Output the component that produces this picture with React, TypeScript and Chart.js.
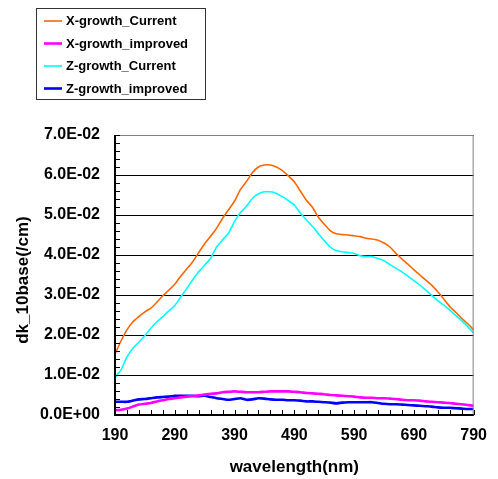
import React, { useEffect, useRef } from "react";
import { Chart, registerables } from "chart.js";

Chart.register(...registerables);

const wavelengths = [
  190, 200, 210, 220, 230, 240, 250, 260, 270, 280, 290, 300, 310, 320, 330, 340, 350, 360, 370, 380,
  390, 400, 410, 420, 430, 440, 450, 460, 470, 480, 490, 500, 510, 520, 530, 540, 550, 560, 570, 580,
  590, 600, 610, 620, 630, 640, 650, 660, 670, 680, 690, 700, 710, 720, 730, 740, 750, 760, 770, 780, 790,
];

const xGrowthCurrent = [
  0.0152, 0.0185, 0.0213, 0.0233, 0.0246, 0.0258, 0.0267, 0.0282, 0.0298, 0.0312, 0.0327, 0.0347, 0.0365, 0.0383, 0.0406, 0.0428, 0.0447, 0.0467, 0.0492, 0.0513,
  0.0535, 0.0564, 0.0584, 0.0606, 0.062, 0.0625, 0.0625, 0.062, 0.0611, 0.0598, 0.0583, 0.056, 0.0537, 0.052, 0.0495, 0.0477, 0.0461, 0.0453, 0.0451, 0.045,
  0.0448, 0.0446, 0.0442, 0.044, 0.0437, 0.043, 0.042, 0.0404, 0.039, 0.0377, 0.0363, 0.035, 0.0337, 0.0324, 0.0308, 0.029, 0.0271, 0.0257, 0.0242, 0.0228, 0.0213,
];

const xGrowthImproved = [
  0.0012, 0.0013, 0.0016, 0.0021, 0.0026, 0.0028, 0.003, 0.0034, 0.0037, 0.004, 0.0042, 0.0044, 0.0046, 0.0047, 0.0049, 0.0051, 0.0053, 0.0054, 0.0057, 0.0058,
  0.0059, 0.0058, 0.0057, 0.0057, 0.0057, 0.0058, 0.0059, 0.0059, 0.0059, 0.0059, 0.0058, 0.0057, 0.0055, 0.0054, 0.0053, 0.0052, 0.005, 0.0049, 0.0048, 0.0047,
  0.0046, 0.0044, 0.0043, 0.0043, 0.0042, 0.0042, 0.0041, 0.004, 0.0038, 0.0037, 0.0037, 0.0036, 0.0034, 0.0033, 0.0032, 0.0031, 0.003, 0.0028, 0.0027, 0.0025, 0.0023,
];

const zGrowthCurrent = [
  0.0094, 0.0113, 0.0145, 0.0167, 0.0182, 0.0199, 0.0217, 0.0233, 0.0246, 0.026, 0.0274, 0.0295, 0.0316, 0.0338, 0.0358, 0.0375, 0.0392, 0.042, 0.0438, 0.0455,
  0.0484, 0.0506, 0.0522, 0.0542, 0.0553, 0.0558, 0.0558, 0.0554, 0.0546, 0.0536, 0.0525, 0.0505, 0.0488, 0.0472, 0.0454, 0.0436, 0.042, 0.0411, 0.0408, 0.0406,
  0.0404, 0.0398, 0.0396, 0.0396, 0.0391, 0.0386, 0.0376, 0.0367, 0.0358, 0.0347, 0.0336, 0.0325, 0.0312, 0.0299, 0.0286, 0.0275, 0.0262, 0.0249, 0.0236, 0.0221, 0.0205,
];

const zGrowthImproved = [
  0.0033, 0.0033, 0.0033, 0.0036, 0.0039, 0.004, 0.0042, 0.0044, 0.0045, 0.0046, 0.0048, 0.0048, 0.0048, 0.0048, 0.0047, 0.0048, 0.0045, 0.0042, 0.004, 0.0038,
  0.004, 0.0042, 0.0038, 0.0039, 0.0042, 0.0041, 0.0039, 0.0038, 0.0038, 0.0037, 0.0037, 0.0036, 0.0034, 0.0034, 0.0033, 0.0032, 0.0031, 0.0029, 0.0031, 0.0032,
  0.0032, 0.0032, 0.0032, 0.0032, 0.003, 0.0028, 0.0027, 0.0027, 0.0026, 0.0025, 0.0024, 0.0023, 0.0022, 0.0021, 0.0019, 0.0018, 0.0018, 0.0017, 0.0016, 0.0015, 0.0015,
];

const seriesNames = ["X-growth_Current", "X-growth_improved", "Z-growth_Current", "Z-growth_improved"];
const seriesColors = ["#FF6600", "#FF00FF", "#00FFFF", "#0000FF"];
const seriesWidths = [1.6, 2.6, 1.6, 2.6];
const seriesValues = [xGrowthCurrent, xGrowthImproved, zGrowthCurrent, zGrowthImproved];

const xTickLabels = [190, 290, 390, 490, 590, 690, 790];
const xTitle = "wavelength(nm)";
const yTitle = "dk_10base(/cm)";
const X_MIN = 190;
const X_MAX = 790;
const X_MINOR_STEP = 20;
const Y_MIN = 0;
const Y_MAX = 0.07;
const Y_STEP = 0.01;
const Y_MINOR_STEP = 0.002;

const FONT = "'Liberation Sans', Arial, sans-serif";

const decorPlugin = {
  id: "decor",
  afterDraw(chart: any) {
    const ctx = chart.ctx;
    const { left, right, top, bottom } = chart.chartArea;
    const xs = chart.scales.x;
    const ys = chart.scales.y;
    ctx.save();
    // plot frame top/right
    ctx.strokeStyle = "#808080";
    ctx.lineWidth = 1;
    ctx.beginPath();
    ctx.moveTo(left, top + 0.5);
    ctx.lineTo(right - 0.5, top + 0.5);
    ctx.lineTo(right - 0.5, bottom);
    ctx.stroke();
    // axes
    ctx.strokeStyle = "#000";
    ctx.lineWidth = 2;
    ctx.beginPath();
    ctx.moveTo(left, top);
    ctx.lineTo(left, bottom);
    ctx.lineTo(right, bottom);
    ctx.stroke();
    // minor ticks (inside)
    ctx.lineWidth = 1;
    ctx.beginPath();
    for (let v = X_MIN; v <= X_MAX + 0.001; v += X_MINOR_STEP) {
      const px = Math.round(xs.getPixelForValue(v)) + 0.5;
      ctx.moveTo(px, bottom);
      ctx.lineTo(px, bottom - 5);
    }
    const n = Math.round((Y_MAX - Y_MIN) / Y_MINOR_STEP);
    for (let i = 0; i <= n; i++) {
      const py = Math.round(ys.getPixelForValue(Y_MIN + i * Y_MINOR_STEP)) + 0.5;
      ctx.moveTo(left, py);
      ctx.lineTo(left + 5, py);
    }
    ctx.stroke();

    // y axis title
    ctx.save();
    ctx.translate(23, 280);
    ctx.rotate(-Math.PI / 2);
    ctx.font = `bold 17px ${FONT}`;
    ctx.fillStyle = "#000";
    ctx.textAlign = "center";
    ctx.textBaseline = "middle";
    ctx.fillText(yTitle, 0, 0);
    ctx.restore();

    // legend
    const bx = 36, by = 8, bw = 169, bh = 91;
    ctx.fillStyle = "#fff";
    ctx.fillRect(bx, by, bw, bh);
    ctx.strokeStyle = "#333";
    ctx.lineWidth = 1;
    ctx.strokeRect(bx + 0.5, by + 0.5, bw, bh);
    const rows = [21, 43.5, 66, 88.5];
    ctx.font = `bold 13px ${FONT}`;
    ctx.textBaseline = "middle";
    ctx.textAlign = "left";
    seriesNames.forEach((name, i) => {
      ctx.strokeStyle = seriesColors[i];
      ctx.lineWidth = seriesWidths[i];
      ctx.beginPath();
      ctx.moveTo(44, rows[i]);
      ctx.lineTo(62, rows[i]);
      ctx.stroke();
      ctx.fillStyle = "#000";
      ctx.fillText(name, 66, rows[i] + 0.5);
    });
    ctx.restore();
  },
};

export default function App() {
  const canvasRef = useRef<HTMLCanvasElement | null>(null);

  useEffect(() => {
    const canvas = canvasRef.current;
    if (!canvas) return;
    const chart = new Chart(canvas, {
      type: "line",
      data: {
        datasets: seriesNames.map((name, i) => ({
          label: name,
          data: wavelengths.map((w, j) => ({ x: w, y: seriesValues[i][j] })),
          borderColor: seriesColors[i],
          backgroundColor: seriesColors[i],
          borderWidth: seriesWidths[i],
          pointRadius: 0,
          tension: 0.2,
          fill: false,
        })),
      },
      options: {
        responsive: false,
        animation: false,
        devicePixelRatio: 1,
        layout: { padding: { left: 0, top: 135, right: 9, bottom: 0 } },
        plugins: {
          legend: { display: false },
          tooltip: { enabled: false },
        },
        scales: {
          x: {
            type: "linear",
            min: X_MIN,
            max: X_MAX,
            afterBuildTicks: (scale: any) => {
              scale.ticks = xTickLabels.map((v) => ({ value: v }));
            },
            afterFit: (scale: any) => {
              scale.height = 64;
            },
            grid: { display: false, drawTicks: false },
            border: { display: false },
            ticks: {
              padding: 11,
              maxRotation: 0,
              autoSkip: false,
              color: "#000",
              font: { family: FONT, size: 16, weight: "bold" },
              callback: (v: any) => String(v),
            },
            title: {
              display: true,
              text: xTitle,
              color: "#000",
              font: { family: FONT, size: 17, weight: "bold" },
              padding: { top: 0, bottom: 1 },
            },
          },
          y: {
            type: "linear",
            min: Y_MIN,
            max: Y_MAX,
            afterFit: (scale: any) => {
              scale.width = 115;
            },
            grid: { color: "#000", lineWidth: 1, drawTicks: false },
            border: { display: false },
            ticks: {
              stepSize: Y_STEP,
              padding: 15,
              color: "#000",
              font: { family: FONT, size: 16, weight: "bold" },
              callback: (v: any) => {
                const s = Number(v).toExponential(1).toUpperCase();
                return s.replace(/E([+-])(\d)$/, "E$10$2");
              },
            },
            title: { display: false },
          },
        },
      },
      plugins: [decorPlugin],
    });
    return () => chart.destroy();
  }, []);

  return (
    <div style={{ position: "absolute", left: 0, top: 0, width: 498, height: 479, background: "#fff" }}>
      <canvas ref={canvasRef} width={498} height={479} style={{ width: 498, height: 479, display: "block" }} />
    </div>
  );
}
